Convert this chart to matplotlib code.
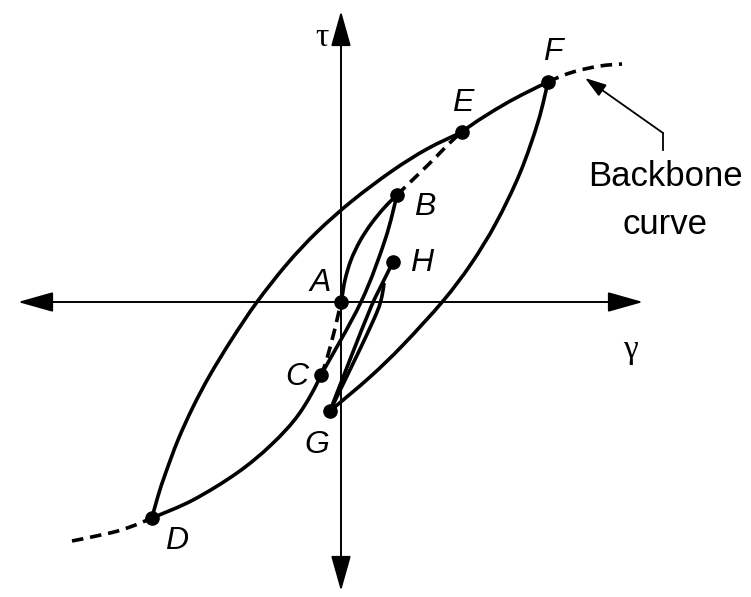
import numpy as np
import matplotlib
matplotlib.use("Agg")
import matplotlib.pyplot as plt
from matplotlib.path import Path
from matplotlib.patches import PathPatch

# ---- stress-strain states (gamma, tau) ----
point_names = ["A", "B", "C", "D", "E", "F", "G", "H"]
point_gamma = [0, 56, -20, -189, 121, 207, -11, 52]
point_tau = [0, 107, -73, -216, 170, 220, -109, 40]

# label placement next to each state
label_gamma = [-21, 84, -44, -164, 122, 212, -24, 81]
label_tau = [19, 95, -75, -239, 199, 250, -143, 39]

# ---- backbone curve, from the far negative end to the far positive end ----
backbone_gamma = [-269, -231, -211, -189, -148, -104, -70, -42, -20, -9, 0,
                  4, 10, 19, 30, 43, 56, 88, 121, 164, 207,
                  232, 259, 281]
backbone_tau = [-239, -231, -225, -216, -198, -171, -143, -112, -73, -38, 0,
                22, 42, 61, 78, 94, 107, 138, 170, 198, 220,
                230, 236, 238]
# pieces of the backbone; True where the loading path runs along it
backbone_pieces = [("start", "D", False), ("D", "C", True), ("C", "A", False),
                   ("A", "B", True), ("B", "E", False), ("E", "F", True),
                   ("F", "end", False)]

# ---- unloading / reloading branches ----
unload_BC_gamma = [56, 44, 20, -20]
unload_BC_tau = [107, 62, 0, -73]
reload_DE_gamma = [-189, -183, -175, -163, -148, -131, -109, -84, -54, -24,
                   11, 51, 86, 121]
reload_DE_tau = [-216, -194, -170, -138, -105, -73, -37, 0, 38, 70,
                 101, 131, 153, 170]
unload_FG_gamma = [207, 197, 179, 155, 130, 102, 62, 29, -11]
unload_FG_tau = [220, 180, 129, 79, 38, 1, -43, -75, -109]
reload_GH_gamma = [-11, 10, 30, 42, 52]
reload_GH_tau = [-109, -55, -5, 20, 40]
inner_GH_gamma = [-11, 20, 36, 41, 43]
inner_GH_tau = [-109, -45, -10, 6, 19]

LW = 2.6
DASH = (0, (3.2, 1.9))


def smooth_path(xs, ys, i0=0, i1=None):
    """Catmull-Rom curve through the given points, as cubic Bezier segments."""
    p = np.column_stack([xs, ys]).astype(float)
    n = len(p)
    if i1 is None:
        i1 = n - 1
    verts = [p[i0]]
    codes = [Path.MOVETO]
    for i in range(i0, i1):
        pm = p[max(i - 1, 0)]
        p0 = p[i]
        p1 = p[i + 1]
        p2 = p[min(i + 2, n - 1)]
        c1 = p0 + (p1 - pm) / 6.0
        c2 = p1 - (p2 - p0) / 6.0
        verts += [c1, c2, p1]
        codes += [Path.CURVE4] * 3
    return Path(verts, codes)


def draw_curve(ax, path, dashed=False, lw=LW):
    ax.add_patch(PathPatch(path, fill=False, edgecolor="black", lw=lw,
                           linestyle=DASH if dashed else "-",
                           joinstyle="round", capstyle="butt", zorder=3))


fig = plt.figure(figsize=(7.51, 5.97), dpi=100)
ax = fig.add_axes([0, 0, 1, 1])
ax.set_xlim(-341, 410)
ax.set_ylim(-295, 302)
ax.set_aspect("equal")
ax.axis("off")

# coordinate axes with arrow heads
axis_arrow = dict(arrowstyle="<|-|>,head_length=2.2,head_width=0.62",
                  mutation_scale=10, color="black", lw=1.4,
                  shrinkA=0, shrinkB=0)
ax.annotate("", xy=(302, 0), xytext=(-323, 0), arrowprops=axis_arrow, zorder=2)
ax.annotate("", xy=(0, 291), xytext=(0, -289), arrowprops=axis_arrow, zorder=2)

# backbone
idx = {"start": 0, "end": len(backbone_gamma) - 1}
for name, g, t in zip(point_names, point_gamma, point_tau):
    for k, (bg, bt) in enumerate(zip(backbone_gamma, backbone_tau)):
        if bg == g and bt == t:
            idx[name] = k
for a, b, solid in backbone_pieces:
    draw_curve(ax, smooth_path(backbone_gamma, backbone_tau, idx[a], idx[b]),
               dashed=not solid)

# hysteresis branches
for gs, ts in [(unload_BC_gamma, unload_BC_tau),
               (reload_DE_gamma, reload_DE_tau),
               (unload_FG_gamma, unload_FG_tau),
               (reload_GH_gamma, reload_GH_tau),
               (inner_GH_gamma, inner_GH_tau)]:
    draw_curve(ax, smooth_path(gs, ts))

# state points and their letters
ax.plot(point_gamma, point_tau, "o", color="black", ms=9.5, zorder=5)
for name, lg, lt in zip(point_names, label_gamma, label_tau):
    ax.text(lg, lt, name, fontsize=23, style="italic",
            family="Liberation Sans", ha="center", va="center", zorder=6)

# axis symbols
ax.text(-19, 264, "\u03c4", fontsize=24, family="Liberation Serif",
        ha="center", va="center")
ax.text(289, -48, "\u03b3", fontsize=24, family="Liberation Serif",
        ha="center", va="center")

# backbone callout
ax.plot([322, 322], [152, 169], color="black", lw=1.3)
ax.annotate("", xy=(244, 224), xytext=(322, 169),
            arrowprops=dict(arrowstyle="-|>,head_length=1.3,head_width=0.42",
                            mutation_scale=10, color="black", lw=1.3,
                            shrinkA=0, shrinkB=0))
ax.text(324, 125, "Backbone", fontsize=25, family="Liberation Sans",
        ha="center", va="center")
ax.text(324, 77, "curve", fontsize=25, family="Liberation Sans",
        ha="center", va="center")

fig.savefig("out.png", dpi=100, facecolor="white")
